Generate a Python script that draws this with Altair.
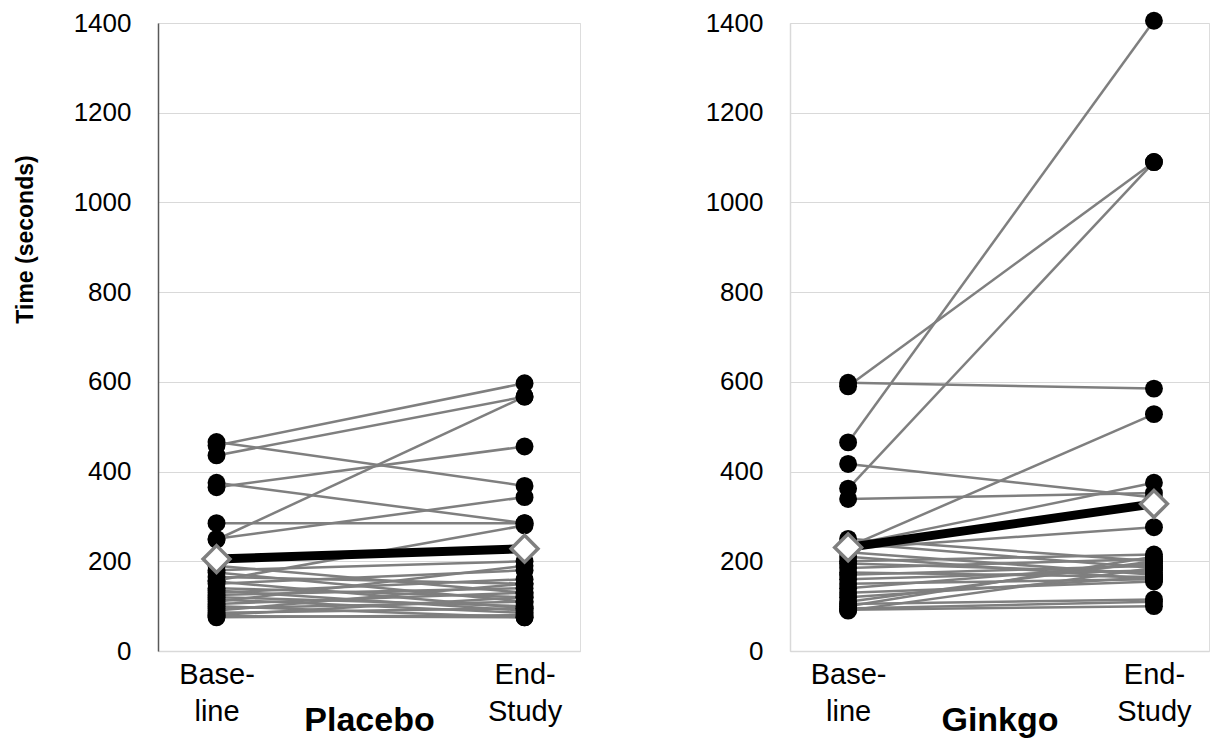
import altair as alt
import pandas as pd

# ---- data ----
stage_labels = ["Base-line", "End-Study"]
stage_pos = [0, 1]
y_ticks = [0, 200, 400, 600, 800, 1000, 1200, 1400]

placebo_baseline = [458, 436, 466, 248, 365, 375, 285, 250, 157,
                    190, 180, 175, 165, 155, 150, 140, 135, 130, 125, 120,
                    115, 110, 105, 100, 95, 90, 85, 80, 75, 78]
placebo_end = [597, 567, 368, 567, 456, 285, 285, 343, 280,
               130, 200, 110, 150, 95, 180, 120, 90, 160, 140, 100,
               85, 190, 130, 75, 110, 150, 95, 120, 80, 75]
placebo_mean = [205, 228]

ginkgo_baseline = [598, 590, 465, 417, 362, 339, 232, 236, 228,
                   250, 240, 220, 210, 200, 195, 185, 175, 170, 160,
                   150, 140, 120, 110, 100, 95, 92, 90, 105, 130]
ginkgo_end = [585, 1090, 1405, 342, 1090, 352, 528, 375, 276,
              200, 185, 170, 160, 215, 175, 205, 165, 190, 180,
              160, 195, 165, 200, 210, 110, 100, 185, 115, 155]
ginkgo_mean = [231, 328]

FONT = "Liberation Sans"
GRID = "#d9d9d9"
LINE_GRAY = "#7f7f7f"


def long_table(base, end):
    rows = []
    for i, (b, e) in enumerate(zip(base, end)):
        rows.append({"subject": i, "stage": stage_pos[0], "value": b})
        rows.append({"subject": i, "stage": stage_pos[1], "value": e})
    return pd.DataFrame(rows)


def panel(base, end, mean, name, width, axis_color, y_title):
    df = long_table(base, end)
    mdf = pd.DataFrame({"stage": stage_pos, "value": mean})

    x = alt.X("stage:Q",
              scale=alt.Scale(domain=[-0.19, 1.18], nice=False, zero=False),
              axis=alt.Axis(values=stage_pos, grid=False, ticks=False, tickSize=0,
                            domainColor=GRID, domainWidth=1.5,
                            labelExpr="datum.value == 0 ? ['Base-','line'] : ['End-','Study']",
                            labelFont=FONT, labelFontSize=29, labelColor="#000000",
                            labelBaseline="alphabetic", labelPadding=32, labelLineHeight=37,
                            title=name, titleFont=FONT, titleFontSize=34,
                            titleFontWeight="bold", titleColor="#000000",
                            titleBaseline="alphabetic", titleY=79, titleAlign="center"))
    common = dict(values=y_ticks, format="d", grid=True, gridColor=GRID, gridWidth=1,
                  ticks=False, tickSize=0, domainColor=axis_color, domainWidth=1.5,
                  labelFont=FONT, labelFontSize=26, labelColor="#000000",
                  labelPadding=27)
    if y_title:
        yaxis = alt.Axis(title="Time (seconds)", titleFont=FONT, titleFontSize=23,
                         titleFontWeight="bold", titleColor="#000000",
                         titleX=-133, titleY=216, titleAngle=270,
                         titleAlign="center", titleBaseline="middle", **common)
        y = alt.Y("value:Q", scale=alt.Scale(domain=[0, 1400], nice=False), axis=yaxis)
    else:
        yaxis = alt.Axis(**common)
        y = alt.Y("value:Q", scale=alt.Scale(domain=[0, 1400], nice=False), axis=yaxis,
                  title=None)

    lines = alt.Chart(df).mark_line(color=LINE_GRAY, strokeWidth=2.5).encode(
        x=x, y=y, detail="subject:N")
    pts = alt.Chart(df).mark_point(shape="circle", filled=True, color="#000000",
                                   opacity=1, size=320).encode(x="stage:Q", y="value:Q")
    mline = alt.Chart(mdf).mark_line(color="#000000", strokeWidth=9).encode(
        x="stage:Q", y="value:Q")
    mpts = alt.Chart(mdf).mark_point(shape="diamond", filled=True, fill="#ffffff",
                                     stroke=LINE_GRAY, strokeWidth=3.5, opacity=1,
                                     size=720).encode(x="stage:Q", y="value:Q")
    return alt.layer(lines, pts, mline, mpts).properties(width=width, height=628)


left = panel(placebo_baseline, placebo_end, placebo_mean, "Placebo", 422, "#595959", True)
right = panel(ginkgo_baseline, ginkgo_end, ginkgo_mean, "Ginkgo", 419, GRID, False)

chart = alt.hconcat(left, right, spacing=123).properties(
    padding={"left": 5, "top": 1, "right": 5, "bottom": 5}
).configure_view(stroke=None).configure(font=FONT, background="#ffffff")

chart.save("out.html", embed_options={"renderer": "svg", "actions": False})
